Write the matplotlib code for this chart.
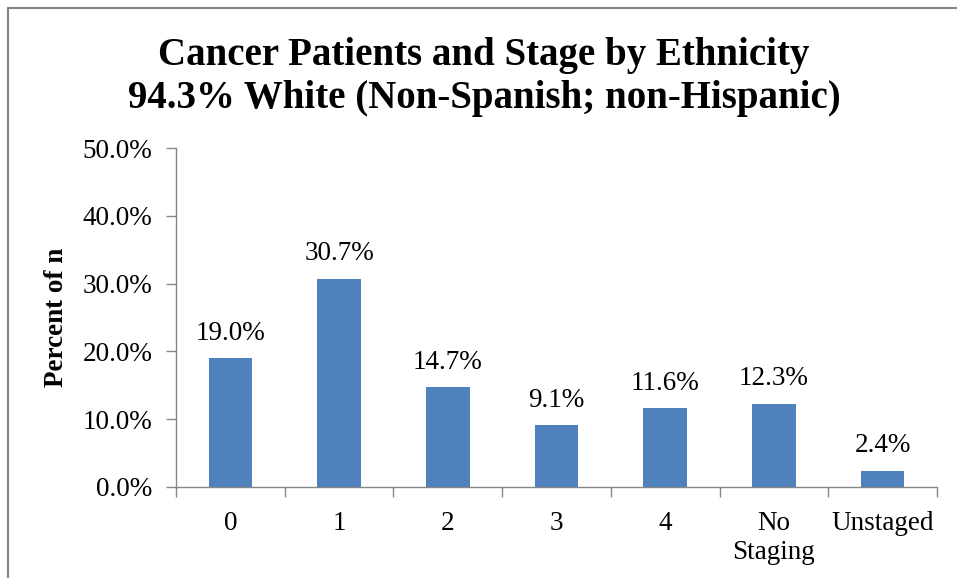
import matplotlib.pyplot as plt
from matplotlib.patches import Rectangle

# chart data
stages = ['0', '1', '2', '3', '4', 'No\nStaging', 'Unstaged']
percent = [19.0, 30.7, 14.7, 9.1, 11.6, 12.3, 2.4]
yticks = [0, 10, 20, 30, 40, 50]

W, H = 957, 578
serif = ['Liberation Serif', 'DejaVu Serif']
plt.rcParams['font.family'] = serif
fs = 19.5

fig = plt.figure(figsize=(W / 100, H / 100), dpi=100)
ax = fig.add_axes([176 / W, 1 - 487 / H, (937 - 176) / W, (487 - 148) / H])

# outer chart border (cut off at right/bottom like the screenshot)
fig.patches.append(Rectangle((8 / W, -0.1), 1.2, 1 - 8 / H + 0.1, transform=fig.transFigure,
                             fill=False, edgecolor='#868686', linewidth=1.5))

x = range(len(stages))
bars = ax.bar(x, percent, width=0.4, color='#4F81BD', zorder=2)
for b, v in zip(bars, percent):
    ax.annotate(f'{v:.1f}%', (b.get_x() + b.get_width() / 2, v), xytext=(0, 9),
                textcoords='offset points', ha='center', va='bottom', fontsize=fs)

ax.set_xlim(-0.5, len(stages) - 0.5)
ax.set_ylim(0, 50)
ax.set_yticks(yticks)
ax.set_yticklabels([f'{t:.1f}%' for t in yticks], fontsize=fs)
ax.set_xticks(x)
ax.set_xticklabels(stages, fontsize=fs, linespacing=1.25, va='top')
ax.tick_params(axis='x', length=0, pad=17)
ax.set_xticks([i - 0.5 for i in range(len(stages) + 1)], minor=True)
ax.tick_params(axis='x', which='minor', length=7, color='#868686', width=1)
ax.tick_params(axis='y', length=7, color='#868686', width=1, pad=10)

for s in ['top', 'right']:
    ax.spines[s].set_visible(False)
for s in ['left', 'bottom']:
    ax.spines[s].set_color('#868686')
    ax.spines[s].set_linewidth(1)

ax.set_ylabel('Percent of n', fontsize=fs, fontweight='bold', labelpad=10)

fig.text(484 / W, 1 - 77 / H, 'Cancer Patients and Stage by Ethnicity\n94.3% White (Non-Spanish; non-Hispanic)',
         ha='center', va='center', fontsize=28, fontweight='bold', linespacing=1.22)

fig.savefig('out.png', dpi=100)
